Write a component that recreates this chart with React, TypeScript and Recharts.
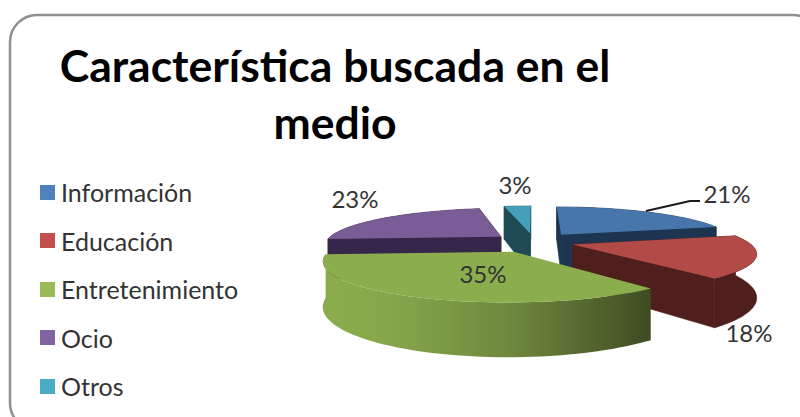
import React from "react";
import { PieChart, Pie, Legend } from "recharts";

const categories = ["Información", "Educación", "Entretenimiento", "Ocio", "Otros"];
const values = [21, 18, 35, 23, 3];
const legendColors = ["#4f81bd", "#c0504d", "#9bbb59", "#8064a2", "#4bacc6"];
const topColors = ["#4676ab", "#b24b48", "#8cad4d", "#7a5c96", "#44a0b8"];
const wallColors = ["#1d3550", "#4f1f1e", "url(#greenWall)", "#35264a", "#1f4a56"];
const cutColors = ["#1d3550", "#4f1f1e", "#4a5a28", "#35264a", "#1f4a56"];
const titleLines = ["Característica buscada en el", "medio"];

// painter's order, far slices first
const drawOrder = [4, 3, 0, 1, 2];

const data = categories.map((name, i) => ({ name, value: values[i], fill: legendColors[i] }));

const EXPLODE = [46, 40, 49, 43, 44];
const TILT = 0.205;
const PERSP = 0.2;
const DEPTH = 41;
const RAD = Math.PI / 180;

type P = [number, number];

function wedgeShape(only: number) {
  return (props: any) => {
    const { cx, cy, outerRadius: R, startAngle, endAngle, index } = props;
    if (index !== only) return <g />;
    const mid = (startAngle + endAngle) / 2;
    const ou = EXPLODE[index] * Math.cos(mid * RAD);
    const ov = -EXPLODE[index] * Math.sin(mid * RAD);
    const proj = (u: number, v: number, h = 0): P => {
      const s = 1 / (1 - (PERSP * v) / R);
      return [cx + u * s, cy + (v * TILT + h) * s];
    };
    const rim = (a: number): [number, number] => [ou + R * Math.cos(a * RAD), ov - R * Math.sin(a * RAD)];
    const arcPts: [number, number][] = [];
    const n = 60;
    for (let k = 0; k <= n; k++) arcPts.push(rim(startAngle + ((endAngle - startAngle) * k) / n));
    const d = (pts: P[]) => "M" + pts.map((p) => `${p[0].toFixed(1)},${p[1].toFixed(1)}`).join("L") + "Z";
    const apex: [number, number] = [ou, ov];
    const first = arcPts[0];
    const last = arcPts[n];
    const quad = (a: [number, number], b: [number, number]) => [proj(a[0], a[1]), proj(b[0], b[1]), proj(b[0], b[1], DEPTH), proj(a[0], a[1], DEPTH)];
    const faces = [
      { v: (apex[1] + first[1]) / 2, pts: quad(apex, first), fill: cutColors[index] },
      { v: (apex[1] + last[1]) / 2, pts: quad(apex, last), fill: cutColors[index] },
    ].sort((a, b) => a.v - b.v);
    const outer = [
      ...arcPts.map((p) => proj(p[0], p[1])),
      ...arcPts.slice().reverse().map((p) => proj(p[0], p[1], DEPTH)),
    ];
    const top = [proj(apex[0], apex[1]), ...arcPts.map((p) => proj(p[0], p[1]))];
    const stroke = index === 2 ? undefined : wallColors[index];
    return (
      <g>
        <path d={d(outer)} fill={wallColors[index]} stroke={stroke} strokeWidth={0.6} />
        {index !== 2 &&
          faces.map((f, i) => <path key={i} d={d(f.pts)} fill={f.fill} stroke={f.fill} strokeWidth={0.6} />)}
        <path d={d(top)} fill={topColors[index]} />
      </g>
    );
  };
}

const labelSpots: P[] = [
  [727, 203],
  [749, 342],
  [483, 283],
  [355, 208],
  [515, 194],
];

const renderLabel = (props: any) => {
  const { index, percent } = props;
  const [x, y] = labelSpots[index];
  return (
    <g key={index}>
      {index === 0 && <path d="M646,211L690,201L700,201" fill="none" stroke="#1a1a1a" strokeWidth={2} />}
      <text x={x} y={y} textAnchor="middle" fontFamily="Lato" fontSize={24} fill="#333">
        {`${Math.round(percent * 100)}%`}
      </text>
    </g>
  );
};

const renderLegend = (props: any) => {
  const items = categories.map((c) => (props.payload || []).find((e: any) => e.value === c)).filter(Boolean);
  return (
    <div style={{ position: "relative", width: 240, height: 240 }}>
      {items.map((e: any, i: number) => (
        <div key={e.value} style={{ position: "absolute", left: 0, top: i * 48.5 - 1, height: 30, display: "flex", alignItems: "center" }}>
          <span style={{ display: "inline-block", width: 15, height: 15, background: legendColors[i], marginRight: 6 }} />
          <span style={{ fontFamily: "Lato", fontSize: 25, color: "#333", lineHeight: "30px" }}>{e.value}</span>
        </div>
      ))}
    </div>
  );
};

export default function App() {
  return (
    <div style={{ position: "absolute", left: 0, top: 0, width: 800, height: 417, overflow: "hidden", background: "#fff" }}>
      <PieChart width={800} height={417} margin={{ top: 0, right: 0, bottom: 0, left: 0 }}>
        <defs>
          <linearGradient id="greenWall" x1="0" y1="0" x2="1" y2="0">
            <stop offset="0" stopColor="#8cad4d" />
            <stop offset="0.25" stopColor="#84a349" />
            <stop offset="0.6" stopColor="#6c853c" />
            <stop offset="1" stopColor="#3e4c22" />
          </linearGradient>
        </defs>
        <rect x={10} y={15} width={810} height={415} rx={27} ry={27} fill="#fff" stroke="#8f8f8f" strokeWidth={2.5} />
        <text textAnchor="middle" fontFamily="Lato" fontWeight={700} fontSize={44.5} fill="#000">
          <tspan x={335} y={82}>{titleLines[0]}</tspan>
          <tspan x={335} y={139}>{titleLines[1]}</tspan>
        </text>
        {drawOrder.map((idx, i) => (
          <Pie
            key={idx}
            data={data}
            dataKey="value"
            nameKey="name"
            cx={534}
            cy={242}
            outerRadius={176}
            startAngle={90}
            endAngle={-270}
            stroke="none"
            legendType={i === 0 ? "square" : "none"}
            shape={wedgeShape(idx)}
            label={i === drawOrder.length - 1 ? renderLabel : false}
            labelLine={false}
            isAnimationActive={false}
          />
        ))}
        <Legend content={renderLegend} layout="vertical" wrapperStyle={{ left: 40, top: 178, width: 240 }} />
      </PieChart>
    </div>
  );
}
